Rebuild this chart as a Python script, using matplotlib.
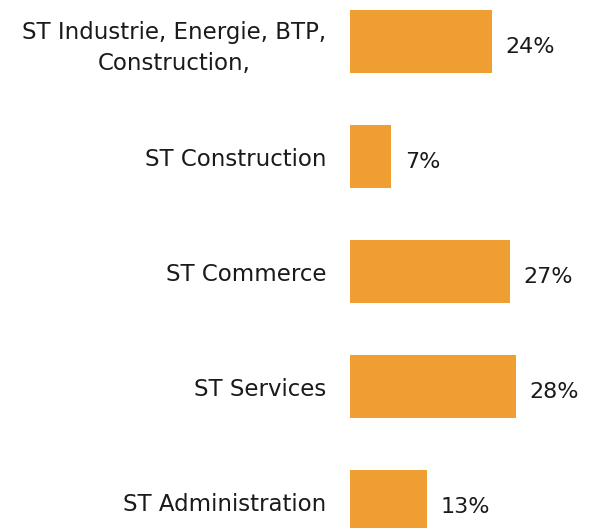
import matplotlib
matplotlib.use('Agg')
import matplotlib.pyplot as plt

categories = ['ST Industrie, Energie, BTP,\nConstruction,', 'ST Construction',
              'ST Commerce', 'ST Services', 'ST Administration']
values = [24, 7, 27, 28, 13]
labels = ['24%', '7%', '27%', '28%', '13%']

plt.rcParams['font.family'] = ['DejaVu Sans']

fig = plt.figure(figsize=(5.90, 5.28), dpi=100)
ax = fig.add_axes([350 / 590, 0, 240 / 590, 1])

pos = list(range(len(values)))
ax.barh(pos, values, height=0.55, color='#EF9F32')
for p, v, t in zip(pos, values, labels):
    ax.text(v + 2.3, p + 0.05, t, va='center', ha='left', fontsize=16, color='#1a1a1a')

ax.set_xlim(0, 40.5)
ax.set_ylim(4.23, -0.361)
ax.set_yticks(pos)
ax.set_yticklabels(categories, fontsize=16.5, color='#1a1a1a', multialignment='center',
                   linespacing=1.45)
ax.tick_params(axis='y', length=0, pad=17)
ax.set_xticks([])
for s in ax.spines.values():
    s.set_visible(False)

fig.savefig('out.png', dpi=100)
